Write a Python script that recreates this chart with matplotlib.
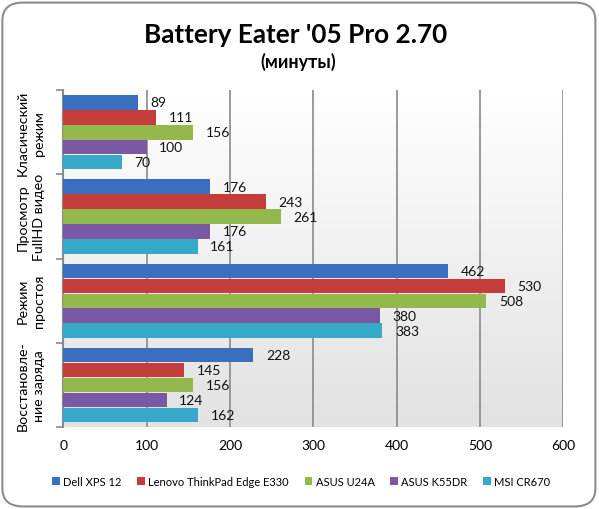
import numpy as np
import matplotlib
matplotlib.use('Agg')
import matplotlib.pyplot as plt
from matplotlib.patches import FancyBboxPatch

plt.rcParams['font.family'] = ['Lato', 'DejaVu Sans']

categories = ['Класический\nрежим', 'Просмотр\nFullHD видео', 'Режим\nпростоя', 'Восстановле-\nние заряда']
series_names = ['Dell XPS 12', 'Lenovo ThinkPad Edge E330', 'ASUS U24A', 'ASUS K55DR', 'MSI CR670']
dell = [89, 176, 462, 228]
lenovo = [111, 243, 530, 145]
asus_u24a = [156, 261, 508, 156]
asus_k55dr = [100, 176, 380, 124]
msi = [70, 161, 383, 162]
xticks = [0, 100, 200, 300, 400, 500, 600]

series = [dell, lenovo, asus_u24a, asus_k55dr, msi]
colors = ['#3A6FC0', '#C43D3A', '#93B84B', '#7A58A4', '#36A9C9']

fig = plt.figure(figsize=(5.99, 5.10), dpi=100)

# rounded chart border
border = FancyBboxPatch((0.004, 0.005), 0.99, 0.988, boxstyle='round,pad=0,rounding_size=0.035',
                        transform=fig.transFigure, facecolor='none', edgecolor='#8c8c8c',
                        linewidth=1.5, zorder=5)
fig.patches.append(border)

ax = fig.add_axes([0.106, 0.161, 0.834, 0.660])
ax.set_xlim(0, 600)
ax.set_ylim(-0.5, 3.5)
ax.invert_yaxis()

# plot area background gradient (white -> light gray)
grad = np.linspace(0, 1, 256).reshape(-1, 1)
ax.imshow(grad, extent=[0, 600, 3.5, -0.5], aspect='auto',
          cmap=matplotlib.colors.LinearSegmentedColormap.from_list('bg', ['#ffffff', '#e2e2e2']),
          zorder=0)

ax.grid(axis='x', color='#8a8a8a', linewidth=1.2, zorder=1)
ax.set_axisbelow(True)

pitch = 0.178
height = 0.17
y = np.arange(len(categories))
for j, (vals, col) in enumerate(zip(series, colors)):
    pos = y + (j - 2) * pitch
    bars = ax.barh(pos, vals, height=height, color=col, label=series_names[j], zorder=3)
    for b, v in zip(bars, vals):
        ax.annotate(str(v), (v, b.get_y() + b.get_height() / 2), xytext=(9, 0),
                    textcoords='offset points', ha='left', va='center', fontsize=10, color='#111111')

ax.set_xticks(xticks)
ax.tick_params(axis='x', length=0, labelsize=10, pad=9)
ax.set_yticks([-0.5, 0.5, 1.5, 2.5, 3.5])
ax.set_yticklabels([])
ax.tick_params(axis='y', length=5, width=1.2, color='#8a8a8a', direction='out')
for s in ['top', 'right', 'bottom']:
    ax.spines[s].set_visible(False)
ax.spines['left'].set_color('#8a8a8a')
ax.spines['left'].set_linewidth(1.5)

for i, c in enumerate(categories):
    ax.text(-0.065, i, c, transform=ax.get_yaxis_transform(), rotation=90,
            ha='center', va='center', fontsize=10.3, linespacing=1.4, multialignment='center')

fig.text(0.493, 0.931, "Battery Eater '05 Pro 2.70", ha='center', va='center',
         fontsize=18.8, fontweight='bold')
fig.text(0.498, 0.878, '(минуты)', ha='center', va='center', fontsize=13, fontweight='bold')

fig.legend(loc='center', bbox_to_anchor=(0.503, 0.054), ncol=5, frameon=False, fontsize=8,
           handlelength=0.7, handleheight=0.7, handletextpad=0.3, columnspacing=1.4)

fig.savefig('out.png', dpi=100)
